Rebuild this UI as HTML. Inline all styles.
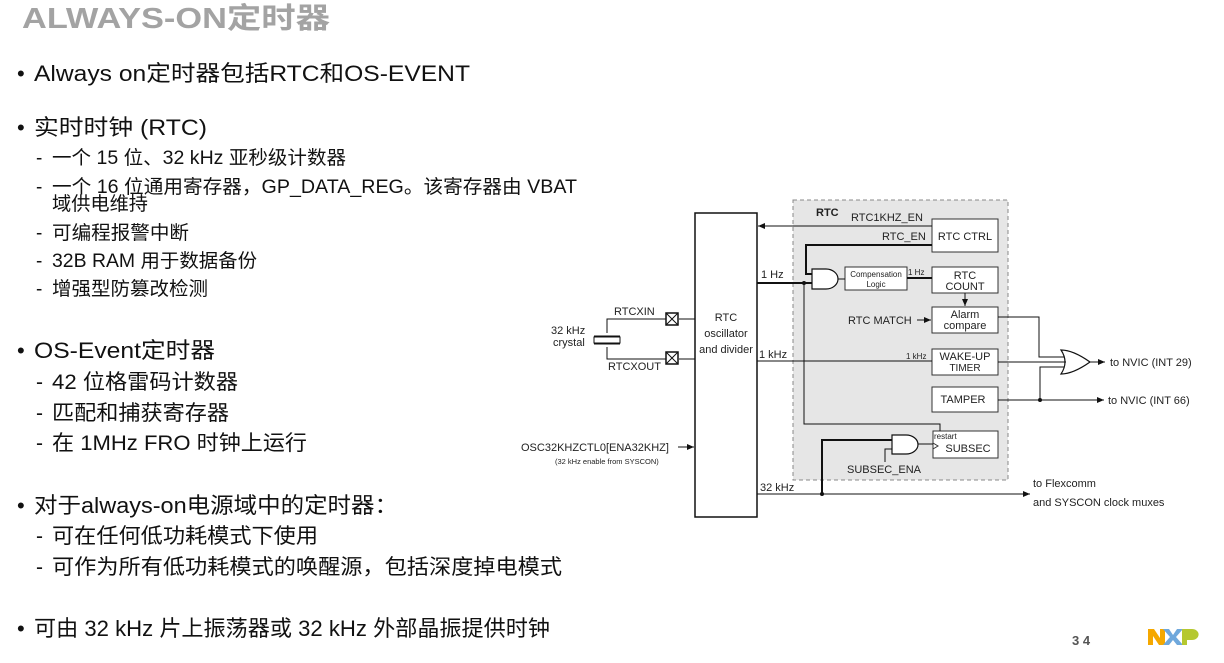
<!DOCTYPE html>
<html><head><meta charset="utf-8"><style>
html,body{margin:0;padding:0;background:#fff;width:1224px;height:663px;overflow:hidden}
svg{display:block}
.l{font-family:"Liberation Sans","Noto Sans CJK SC",sans-serif;fill:#111}
.d{font-family:"Liberation Sans",sans-serif;fill:#222;font-size:11px}
</style></head><body>
<svg width="1224" height="663" viewBox="0 0 1224 663">
<defs><marker id="a" markerWidth="8" markerHeight="8" refX="7" refY="4" orient="auto" markerUnits="userSpaceOnUse"><path d="M0,1 L7,4 L0,7z" fill="#111"/></marker></defs>
<text x="22" y="28" class="l" textLength="308" lengthAdjust="spacingAndGlyphs" style="font-size:29px;font-weight:bold;fill:#a3a3a3">ALWAYS-ON定时器</text>
<g class="l" style="font-size:22px">
<text x="17" y="81">•</text><text x="34" y="81" textLength="436" lengthAdjust="spacingAndGlyphs">Always on定时器包括RTC和OS-EVENT</text>
<text x="17" y="135">•</text><text x="34" y="135" textLength="173" lengthAdjust="spacingAndGlyphs">实时时钟 (RTC)</text>
<text x="17" y="358">•</text><text x="34" y="358" textLength="181" lengthAdjust="spacingAndGlyphs">OS-Event定时器</text>
<text x="17" y="513">•</text><text x="34" y="513" textLength="364" lengthAdjust="spacingAndGlyphs">对于always-on电源域中的定时器：</text>
<text x="17" y="636">•</text><text x="34" y="636" textLength="516" lengthAdjust="spacingAndGlyphs">可由 32 kHz 片上振荡器或 32 kHz 外部晶振提供时钟</text>
</g>
<g class="l" style="font-size:19px">
<text x="36" y="164">-</text><text x="52" y="164" textLength="294" lengthAdjust="spacingAndGlyphs">一个 15 位、32 kHz 亚秒级计数器</text>
<text x="36" y="193">-</text><text x="52" y="193" textLength="525" lengthAdjust="spacingAndGlyphs">一个 16 位通用寄存器，GP_DATA_REG。该寄存器由 VBAT</text>
<text x="52" y="210" textLength="96" lengthAdjust="spacingAndGlyphs">域供电维持</text>
<text x="36" y="239">-</text><text x="52" y="239" textLength="137" lengthAdjust="spacingAndGlyphs">可编程报警中断</text>
<text x="36" y="267">-</text><text x="52" y="267" textLength="205" lengthAdjust="spacingAndGlyphs">32B RAM 用于数据备份</text>
<text x="36" y="295">-</text><text x="52" y="295" textLength="156" lengthAdjust="spacingAndGlyphs">增强型防篡改检测</text>
</g>
<g class="l" style="font-size:21px">
<text x="36" y="389">-</text><text x="52" y="389" textLength="186" lengthAdjust="spacingAndGlyphs">42 位格雷码计数器</text>
<text x="36" y="420">-</text><text x="52" y="420" textLength="177" lengthAdjust="spacingAndGlyphs">匹配和捕获寄存器</text>
<text x="36" y="450">-</text><text x="52" y="450" textLength="255" lengthAdjust="spacingAndGlyphs">在 1MHz FRO 时钟上运行</text>
<text x="36" y="543">-</text><text x="52" y="543" textLength="266" lengthAdjust="spacingAndGlyphs">可在任何低功耗模式下使用</text>
<text x="36" y="574">-</text><text x="52" y="574" textLength="510" lengthAdjust="spacingAndGlyphs">可作为所有低功耗模式的唤醒源，包括深度掉电模式</text>
</g>
<text x="1072" y="645" style="font-family:'Liberation Sans',sans-serif;font-size:13px;font-weight:bold;fill:#555">3 4</text>
<g>
<polygon points="1148,645 1148,629 1154,629 1160,638 1160,629 1165,629 1165,645 1159,645 1153,636 1153,645" fill="#f5a800"/>
<polygon points="1163,629 1169,629 1173,635 1177,629 1183,629 1176,637 1183,645 1177,645 1173,640 1169,645 1163,645 1170,637" fill="#6fa8dc"/>
<path d="M1182,629 h10 a6,5 0 0 1 0,11 h-5 v5 h-5z" fill="#b5c830"/>
</g>

<rect x="793" y="200" width="215" height="280" fill="#e6e6e6" stroke="#888" stroke-dasharray="4,3"/>
<text x="816" y="216" class="d" style="font-weight:bold">RTC</text>
<rect x="695" y="213" width="62" height="304" fill="#fff" stroke="#111" stroke-width="1.5"/>
<text class="d" text-anchor="middle"><tspan x="726" y="321">RTC</tspan><tspan x="726" y="337">oscillator</tspan><tspan x="726" y="353">and divider</tspan></text>
<g fill="#fff" stroke="#333">
<rect x="932" y="219" width="66" height="33"/>
<rect x="932" y="267" width="66" height="26"/>
<rect x="932" y="307" width="66" height="26"/>
<rect x="932" y="349" width="66" height="26"/>
<rect x="932" y="387" width="66" height="25"/>
<rect x="933" y="431" width="65" height="27"/>
<rect x="845" y="267" width="62" height="23"/>
</g>
<g class="d" text-anchor="middle">
<text x="965" y="240">RTC CTRL</text>
<text x="965" y="279">RTC</text><text x="965" y="290">COUNT</text>
<text x="965" y="318">Alarm</text><text x="965" y="329">compare</text>
<text x="965" y="360">WAKE-UP</text><text x="965" y="371" style="font-size:10px">TIMER</text>
<text x="963" y="403">TAMPER</text>
<text x="968" y="452">SUBSEC</text>
<text x="876" y="277" style="font-size:8px">Compensation</text><text x="876" y="287" style="font-size:8px">Logic</text>
</g>
<text x="934" y="439" class="d" style="font-size:8px">restart</text>
<path d="M933,443 l5,3 l-5,3" fill="none" stroke="#333"/>
<g fill="#fff" stroke="#111" stroke-width="1.2">
<path d="M812,269 h14 a12,10 0 0 1 0,20 h-14z"/>
<path d="M892,435 h14 a12,9.5 0 0 1 0,19 h-14z"/>
<path d="M1061,350 q12,0 29,12 q-17,12 -29,12 q8,-12 0,-24z"/>
</g>
<g stroke="#111" fill="none">
<path d="M932,226 H758" marker-end="url(#a)"/>
<path d="M932,245 H806 V274 H812" stroke-width="2"/>
<path d="M757,283 H812" stroke-width="2"/>
<path d="M804,283 V424 H940 V431"/>
<path d="M838,279 H845"/>
<path d="M907,278 H932" stroke-width="2"/>
<path d="M965,293 V306" marker-end="url(#a)"/>
<path d="M917,320 H931" marker-end="url(#a)"/>
<path d="M757,361 H932"/>
<path d="M757,494 H1030" marker-end="url(#a)"/>
<path d="M822,494 V440 H892" stroke-width="2"/>
<path d="M885,462 V449 H892"/>
<path d="M918,444 H933"/>
<path d="M998,317 H1039 V357 H1064"/>
<path d="M998,362 H1066"/>
<path d="M998,400 H1104" marker-end="url(#a)"/>
<path d="M1040,400 V367 H1064"/>
<path d="M1090,362 H1105" marker-end="url(#a)"/>
<path d="M679,319 H695 M679,359 H695"/>
<path d="M666,319 H607 V333 M666,359 H607 V347"/>
<path d="M594,336 H620 M594,344 H620" />
<path d="M678,447 H694" marker-end="url(#a)"/>
</g>
<rect x="594" y="337" width="26" height="6" fill="#fff" stroke="#111"/>
<circle cx="804" cy="283" r="2" fill="#111"/><circle cx="822" cy="494" r="2" fill="#111"/><circle cx="1040" cy="400" r="2" fill="#111"/>
<g stroke="#111" stroke-width="1.5" fill="#fff"><rect x="666" y="313" width="12" height="12"/><rect x="666" y="352" width="12" height="12"/></g>
<path d="M666,313 l12,12 M678,313 l-12,12 M666,352 l12,12 M678,352 l-12,12" stroke="#111"/>
<g class="d">
<text x="851" y="221">RTC1KHZ_EN</text>
<text x="882" y="240">RTC_EN</text>
<text x="761" y="278">1 Hz</text>
<text x="908" y="275" style="font-size:8px">1 Hz</text>
<text x="848" y="324">RTC MATCH</text>
<text x="759" y="358">1 kHz</text>
<text x="906" y="359" style="font-size:8px">1 kHz</text>
<text x="847" y="473">SUBSEC_ENA</text>
<text x="760" y="491">32 kHz</text>
<text x="614" y="315">RTCXIN</text>
<text x="608" y="370">RTCXOUT</text>
<text x="551" y="334">32 kHz</text><text x="553" y="346">crystal</text>
<text x="521" y="451">OSC32KHZCTL0[ENA32KHZ]</text>
<text x="555" y="464" style="font-size:7.5px">(32 kHz enable from SYSCON)</text>
<text x="1110" y="366">to NVIC (INT 29)</text>
<text x="1108" y="404">to NVIC (INT 66)</text>
<text x="1033" y="487">to Flexcomm</text>
<text x="1033" y="506">and SYSCON clock muxes</text>
</g>
</svg>
</body></html>
